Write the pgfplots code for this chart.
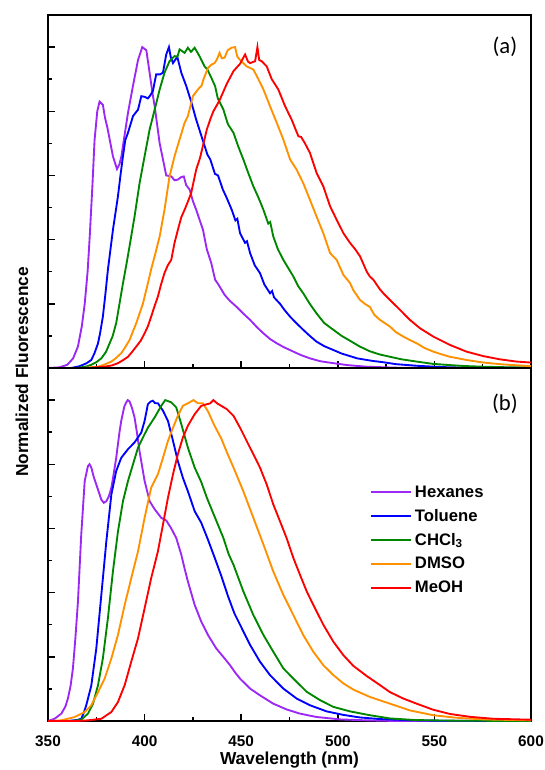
\documentclass[border=0pt]{standalone}
\usepackage{fontspec}
\setmainfont{Liberation Sans}
\newfontfamily\carlito{Carlito}
\usepackage{pgfplots}
\pgfplotsset{compat=1.18}

\definecolor{colhex}{RGB}{155,40,245}
\definecolor{coltol}{RGB}{0,0,255}
\definecolor{colchc}{RGB}{0,135,0}
\definecolor{coldms}{RGB}{255,145,0}
\definecolor{colmeo}{RGB}{255,0,0}

\pgfplotsset{
  spec/.style={
    scale only axis, width=362.25pt, height=264.75pt,
    xmin=350, xmax=600, ymin=0, ymax=1.1,
    xtick={350,400,...,600}, minor x tick num=1,
    ytick={0,0.2,...,1.0}, minor y tick num=1, yticklabels={},
    xtick pos=bottom, ytick pos=left, tick align=inside,
    major tick length=5pt, minor tick length=3pt,
    every tick/.style={black, line width=1.1pt},
    axis line style={line width=1.5pt},
    /pgf/number format/assume math mode=true,
    xticklabel style={yshift=-7.5pt, font=\bfseries\fontsize{11.5}{13}\selectfont},
    every axis plot/.append style={line width=1.4pt, mark=none},
  }
}

\begin{document}
\begin{tikzpicture}
\path[use as bounding box] (-36pt,-36.75pt) rectangle (372.75pt,540.75pt);

% panel (a)
\begin{axis}[spec, at={(0,264.75pt)}, anchor=south west, xticklabels={}]
\addplot[color=colhex] coordinates {
(350,0)(356,0.002)(360,0.01)(363,0.03)(365.5,0.067)(367.5,0.13)(369,0.2)(370.5,0.3)(371.6,0.41)(373,0.57)(374.1,0.71)(375.5,0.8)(376.7,0.83)(378.4,0.82)(379.5,0.78)(380.7,0.75)(382,0.71)(383.6,0.66)(385.7,0.62)(387,0.635)(388,0.66)(389.5,0.72)(391.4,0.795)(394,0.88)(396.6,0.96)(398.8,1.0)(400.9,0.99)(402.6,0.92)(404,0.86)(405.2,0.816)(407.8,0.70)(409.5,0.65)(411.2,0.60)(413.8,0.597)(415.5,0.585)(417.2,0.587)(419,0.595)(420.3,0.597)(421.5,0.57)(423.3,0.556)(425,0.52)(426.7,0.493)(430.2,0.431)(432.2,0.37)(434.5,0.327)(436.5,0.275)(438,0.262)(441.4,0.228)(444,0.21)(447.7,0.19)(451,0.17)(454.6,0.15)(458,0.128)(461.5,0.108)(465,0.09)(468.4,0.077)(472,0.065)(477,0.051)(481,0.04)(485.6,0.03)(491,0.021)(497.7,0.015)(505,0.009)(515,0.004)(530,0.001)(550,0)(600,0)
};
\addplot[color=coltol] coordinates {
(350,0)(362,0)(366,0.005)(368.1,0.01)(370,0.015)(372.4,0.025)(374,0.045)(375.9,0.077)(377,0.11)(378.4,0.16)(379.7,0.23)(381,0.306)(383.6,0.43)(386.2,0.535)(387.5,0.6)(388.8,0.66)(390,0.71)(391.4,0.733)(394,0.785)(396.6,0.805)(398.3,0.847)(400,0.845)(401.7,0.84)(403,0.85)(404.3,0.863)(406,0.915)(408,0.915)(409.5,0.92)(411.2,0.977)(412.6,1.0)(413.5,0.97)(414.7,0.95)(416.9,0.97)(419,0.92)(421.6,0.878)(424.1,0.83)(426.7,0.774)(429.3,0.725)(432.5,0.665)(434,0.65)(436.4,0.605)(438,0.6)(440.5,0.556)(442.5,0.53)(445.1,0.493)(447,0.46)(448,0.465)(449.4,0.42)(452,0.39)(453,0.395)(454.6,0.358)(457,0.32)(459.7,0.296)(462,0.26)(464.9,0.233)(466,0.24)(467,0.22)(470.1,0.2)(472.5,0.18)(475.3,0.16)(478.5,0.14)(482.1,0.119)(485.5,0.1)(489,0.082)(493,0.068)(497.7,0.056)(502,0.045)(506.3,0.037)(510,0.03)(515,0.025)(518,0.022)(523.5,0.018)(530,0.012)(540.8,0.007)(550,0.004)(558,0.002)(570,0.001)(600,0)
};
\addplot[color=colchc] coordinates {
(350,0)(365,0)(370,0.005)(372.4,0.01)(375,0.018)(377.6,0.03)(380,0.05)(381.9,0.077)(383.5,0.1)(385.3,0.14)(387,0.2)(388.8,0.264)(390.5,0.32)(392.2,0.379)(394.8,0.472)(397.4,0.576)(400,0.66)(402.6,0.743)(405.2,0.805)(407.8,0.868)(410.3,0.92)(412.9,0.956)(415.5,0.972)(417,0.97)(418.1,0.993)(420.7,0.982)(422.4,0.998)(424,0.985)(425.9,0.998)(428.4,0.972)(431,0.94)(432.5,0.93)(434.5,0.905)(436.5,0.878)(437.9,0.84)(440.8,0.805)(443.1,0.76)(446,0.733)(448.5,0.69)(451.1,0.65)(453.5,0.61)(456.3,0.566)(459,0.53)(461.5,0.493)(464,0.45)(465,0.455)(466.6,0.41)(469,0.37)(471.8,0.337)(474.5,0.31)(477,0.285)(479.5,0.255)(482.1,0.233)(485.5,0.2)(489,0.17)(493,0.14)(497.7,0.119)(502,0.1)(506.3,0.085)(511,0.068)(516.6,0.052)(521.8,0.042)(527,0.035)(533,0.027)(540.8,0.02)(549,0.013)(558,0.009)(566,0.006)(575.3,0.004)(590,0.002)(600,0.002)
};
\addplot[color=coldms] coordinates {
(350,0)(368,0)(372,0.002)(375.9,0.004)(379,0.01)(382.8,0.02)(385,0.03)(387.9,0.046)(390,0.065)(392.2,0.087)(395.7,0.14)(399.1,0.2)(401.7,0.264)(403.5,0.31)(405.2,0.348)(407.8,0.41)(410.3,0.493)(412.9,0.597)(415.5,0.66)(418.1,0.712)(420.7,0.764)(422.4,0.785)(425,0.847)(427.6,0.868)(429.5,0.88)(430.5,0.9)(432.8,0.935)(434.5,0.945)(436.2,0.95)(437.3,0.96)(438.8,0.982)(440,0.965)(441.4,0.967)(443,0.99)(445,0.998)(446.8,1.0)(448,0.97)(449.4,0.96)(452.8,0.94)(456.3,0.93)(458.9,0.9)(461.5,0.868)(464.9,0.816)(468.4,0.764)(471.8,0.712)(475.3,0.65)(478.7,0.618)(482.1,0.576)(485.6,0.524)(489,0.472)(492.5,0.42)(496,0.358)(499.4,0.337)(502.9,0.29)(506.3,0.265)(508,0.243)(511.5,0.212)(514,0.2)(516.6,0.19)(519,0.165)(521.8,0.15)(527,0.129)(530,0.112)(533.9,0.098)(537,0.088)(540.8,0.077)(545,0.062)(549.4,0.051)(554,0.042)(558,0.035)(566.6,0.025)(575.3,0.017)(583.9,0.012)(591,0.009)(600,0.006)
};
\addplot[color=colmeo] coordinates {
(350,0)(370,0)(375,0.002)(379.3,0.004)(383,0.008)(386.2,0.015)(389,0.025)(391.4,0.035)(393.5,0.05)(395.7,0.067)(398,0.085)(400,0.108)(401.7,0.13)(403.4,0.16)(405,0.19)(406.9,0.223)(408.5,0.26)(410.3,0.296)(412,0.32)(413.8,0.337)(415.5,0.39)(417.2,0.43)(419,0.47)(420.7,0.493)(422.5,0.52)(424.1,0.545)(426.7,0.618)(428.7,0.655)(430.5,0.7)(432.2,0.743)(434,0.775)(435.6,0.8)(437.5,0.82)(439,0.837)(442.5,0.885)(446,0.925)(449.4,0.948)(452,0.977)(453.5,0.955)(454.6,0.95)(457.2,0.956)(458.4,1.0)(459.3,0.96)(460.6,0.956)(463.2,0.94)(465.8,0.9)(469.2,0.868)(472.7,0.816)(476.1,0.774)(479.6,0.722)(481,0.72)(483,0.70)(485.6,0.67)(489,0.608)(492.5,0.566)(496,0.504)(499.4,0.462)(502.9,0.42)(506.3,0.39)(509,0.37)(511.5,0.348)(515,0.3)(516.6,0.285)(518.4,0.275)(521.8,0.245)(524,0.23)(527,0.212)(532.2,0.181)(537.3,0.15)(542.5,0.124)(549.4,0.098)(558,0.072)(566.6,0.051)(575.3,0.037)(583.9,0.027)(592.5,0.02)(600,0.017)
};
\node[font=\carlito\fontsize{17}{20}\selectfont] at (rel axis cs:0.946,0.909) {(a)};
\end{axis}

% panel (b)
\begin{axis}[spec, at={(0,0)}, anchor=south west,
  xlabel={Wavelength (nm)},
  xlabel style={font=\bfseries\fontsize{13}{15}\selectfont, yshift=3pt},
  legend cell align=left,
  legend image code/.code={\draw[#1] (0pt,0pt) -- (30pt,0pt);},
  legend style={at={(0.667,0.675)}, anchor=north west, draw=none, fill=none,
    inner sep=0pt, row sep=3.5pt,
    font=\bfseries\fontsize{12.5}{15}\selectfont},
]
\addplot[color=colhex] coordinates {
(350,0)(353.4,0.007)(356.9,0.023)(359,0.045)(360.3,0.07)(361.7,0.11)(362.9,0.164)(364.2,0.26)(365.5,0.372)(367.2,0.58)(369,0.748)(370.7,0.795)(371.5,0.8)(372.4,0.79)(373.7,0.76)(375,0.737)(377.6,0.69)(378.9,0.68)(380.2,0.685)(381.5,0.7)(382.8,0.727)(384,0.77)(385.3,0.82)(387,0.9)(387.9,0.935)(389.5,0.98)(390.5,0.993)(391.3,1.0)(392.2,0.996)(393.5,0.975)(394.8,0.946)(396,0.9)(397.4,0.84)(400,0.748)(402.6,0.685)(405.2,0.66)(408.6,0.633)(411.2,0.625)(413.8,0.60)(416.4,0.57)(419,0.518)(420.7,0.475)(422.4,0.435)(425.9,0.362)(429.3,0.31)(432.8,0.268)(437.1,0.226)(441.4,0.195)(444.2,0.174)(447,0.15)(449.4,0.132)(454.6,0.101)(459.7,0.08)(466.6,0.054)(473.5,0.036)(480.4,0.023)(489,0.0125)(501.1,0.005)(515,0.002)(530,0)(600,0)
};
\addlegendentry{Hexanes}
\addplot[color=coltol] coordinates {
(350,0)(360,0)(365,0.003)(367.2,0.007)(368.5,0.025)(369.8,0.049)(372.4,0.11)(375,0.226)(377.6,0.393)(380.2,0.56)(382.8,0.706)(385.3,0.779)(387.9,0.82)(391.4,0.847)(394.8,0.868)(398.3,0.899)(400,0.935)(401.7,0.987)(403,0.995)(404.3,0.998)(405.5,0.99)(406.9,0.99)(408,0.98)(409.5,0.967)(412.1,0.935)(414.7,0.873)(417.2,0.81)(419.8,0.758)(422.4,0.716)(425.9,0.654)(429.3,0.618)(432.8,0.565)(436.2,0.51)(439.7,0.452)(443.1,0.39)(446.5,0.335)(449.4,0.3)(454.6,0.237)(459.7,0.185)(464.9,0.143)(471.8,0.101)(478.7,0.07)(485.6,0.049)(494.2,0.03)(502.9,0.019)(511.5,0.011)(521.8,0.006)(535,0.003)(550,0.001)(600,0)
};
\addlegendentry{Toluene}
\addplot[color=colchc] coordinates {
(350,0)(362,0)(365,0.002)(367.2,0.004)(370.7,0.023)(373.3,0.054)(375.9,0.112)(378.4,0.195)(381,0.32)(383.6,0.466)(386.2,0.59)(388.8,0.685)(391.4,0.748)(394,0.8)(396.6,0.852)(399.1,0.883)(401.7,0.914)(405.2,0.946)(408.6,0.982)(410.7,1.0)(413.8,0.993)(416.4,0.977)(419,0.925)(422.4,0.852)(425.9,0.79)(429.3,0.745)(432.2,0.696)(436.5,0.633)(440.8,0.57)(443.5,0.52)(446,0.487)(451.1,0.404)(456.3,0.33)(461.5,0.268)(466.6,0.216)(471.8,0.164)(477,0.132)(483.9,0.091)(490.8,0.065)(497.7,0.044)(506.3,0.03)(516.6,0.018)(527,0.008)(540,0.003)(560,0.001)(600,0)
};
\addlegendentry{CHCl\textsubscript{3}}
\addplot[color=coldms] coordinates {
(350,0)(356.9,0.002)(363.8,0.0125)(369,0.028)(372.4,0.049)(375.9,0.09)(379.3,0.132)(382.8,0.195)(386.2,0.268)(389.7,0.362)(393.1,0.445)(396.6,0.529)(400,0.633)(403.4,0.727)(406.9,0.769)(409.5,0.82)(412.1,0.873)(414.7,0.914)(417.2,0.951)(419.8,0.982)(422.4,0.99)(425.3,1.0)(427.6,0.99)(430.2,0.99)(432.8,0.965)(436.2,0.92)(439.7,0.88)(443.1,0.83)(446,0.79)(451.1,0.716)(456.3,0.633)(461.5,0.55)(466.6,0.466)(471.8,0.393)(477,0.33)(482.1,0.268)(487.3,0.216)(492.5,0.174)(497.7,0.143)(502.9,0.117)(508,0.098)(516.6,0.075)(527,0.054)(537.3,0.033)(549.4,0.018)(561.5,0.01)(575.3,0.005)(600,0.002)
};
\addlegendentry{DMSO}
\addplot[color=colmeo] coordinates {
(350,0)(365,0)(370.7,0.002)(377.6,0.007)(382.8,0.028)(386.2,0.059)(389.7,0.112)(393.1,0.185)(396.6,0.258)(400,0.351)(403.4,0.445)(406.9,0.529)(409.5,0.612)(412.1,0.696)(414.7,0.769)(417.2,0.831)(419.8,0.883)(422.4,0.92)(425.9,0.956)(429.3,0.982)(432.2,0.987)(434,0.99)(435.6,1.0)(437.5,0.99)(439.7,0.982)(442.5,0.972)(446,0.951)(449.4,0.914)(452.8,0.873)(456.3,0.831)(459.7,0.79)(463.2,0.737)(466.6,0.675)(470.1,0.622)(473.5,0.57)(477,0.508)(480.4,0.456)(483.9,0.404)(487.3,0.362)(492.5,0.3)(497.7,0.247)(502.9,0.205)(508,0.172)(515,0.14)(521.8,0.112)(527,0.09)(533.9,0.07)(540.8,0.054)(549.4,0.035)(558,0.022)(568.4,0.013)(580.4,0.007)(600,0.004)
};
\addlegendentry{MeOH}
\node[font=\carlito\fontsize{17}{20}\selectfont] at (rel axis cs:0.946,0.90) {(b)};
\end{axis}

\node[rotate=90, font=\bfseries\fontsize{13}{15}\selectfont] at (-19.5pt,261.75pt) {Normalized Fluorescence};
\end{tikzpicture}
\end{document}
